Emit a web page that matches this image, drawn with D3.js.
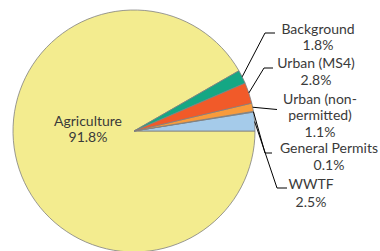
<!DOCTYPE html>
<html>
<head>
<meta charset="utf-8">
<script src="https://cdn.jsdelivr.net/npm/d3@7"></script>
<style>
  html, body { margin: 0; padding: 0; background: #fff; }
  svg { display: block; }
  .lbl { font-family: Lato, "Open Sans", sans-serif; font-size: 14px; fill: #3a3a3a; }
</style>
</head>
<body>
<div id="chart"></div>
<script>
// Slices, counter-clockwise from 3 o'clock
const sources = ['WWTF', 'General Permits', 'Urban (non-permitted)', 'Urban (MS4)', 'Background', 'Agriculture'];
const shares  = [2.5, 0.1, 1.1, 2.8, 1.8, 91.8];
const shareLabels = ['2.5%', '0.1%', '1.1%', '2.8%', '1.8%', '91.8%'];
const nameLines = [['WWTF'], ['General Permits'], ['Urban (non-', 'permitted)'], ['Urban (MS4)'], ['Background'], ['Agriculture']];
const colors  = ['#a5cbea', '#6fa8d8', '#f89b3b', '#f15a29', '#14a784', '#f3ec8f'];

const width  = 380,
      height = 251,
      cx     = 134,
      cy     = 131,
      radius = 121;

// label layout: elbow point, end of tick, text centre x, first baseline, line gaps
const layout = [
  {elbow: [277, 188], end: [287, 188], tx: 311, ty: 189, gap: [18]},
  {elbow: [265, 153], end: [272, 153], tx: 329, ty: 153, gap: [17]},
  {elbow: null,       end: [277, 109.5], tx: 320, ty: 104, gap: [16, 17]},
  {elbow: [264, 68],  end: [273, 68],  tx: 316, ty: 68,  gap: [17]},
  {elbow: [265, 33],  end: [275, 33],  tx: 318, ty: 34,  gap: [16]},
  null
];

const svg = d3.select('#chart').append('svg')
  .attr('width', width)
  .attr('height', height);

const g = svg.append('g')
  .attr('transform', `translate(${cx},${cy})`);

const pie = d3.pie()
  .sort(null)
  .value(function (d) { return d; })
  .startAngle(Math.PI / 2)
  .endAngle(Math.PI / 2 - 2 * Math.PI);

const arcs = pie(shares);

const arc = d3.arc()
  .innerRadius(0)
  .outerRadius(radius);

// draw the big slice first so the small ones sit on top
const order = [5, 0, 1, 2, 3, 4];
g.selectAll('path.slice')
  .data(order.map(function (i) { return arcs[i]; }))
  .join('path')
  .attr('class', 'slice')
  .attr('d', arc)
  .attr('fill', function (d) { return colors[d.index]; })
  .attr('stroke', '#808080')
  .attr('stroke-width', 0.8)
  .attr('stroke-linejoin', 'round');

// leader lines + labels for the small slices
arcs.forEach(function (d, i) {
  const lay = layout[i];
  if (!lay) return;
  const mid = (d.startAngle + d.endAngle) / 2;
  const sx = cx + Math.sin(mid) * radius,
        sy = cy - Math.cos(mid) * radius;
  const pts = [[sx, sy]];
  if (lay.elbow) pts.push(lay.elbow);
  pts.push(lay.end);

  svg.append('path')
    .attr('d', d3.line()(pts))
    .attr('fill', 'none')
    .attr('stroke', '#000')
    .attr('stroke-width', 1);

  const lines = nameLines[i].concat([shareLabels[i]]);
  let y = lay.ty;
  lines.forEach(function (t, k) {
    svg.append('text')
      .attr('class', 'lbl')
      .attr('x', lay.tx)
      .attr('y', y)
      .attr('text-anchor', 'middle')
      .text(t);
    y += lay.gap[Math.min(k, lay.gap.length - 1)];
  });
});

// agriculture label sits inside the pie
svg.selectAll('text.agri')
  .data(nameLines[5].concat([shareLabels[5]]))
  .join('text')
  .attr('class', 'lbl agri')
  .attr('x', 88)
  .attr('y', function (d, k) { return 126 + k * 16; })
  .attr('text-anchor', 'middle')
  .text(function (d) { return d; });
</script>
</body>
</html>
